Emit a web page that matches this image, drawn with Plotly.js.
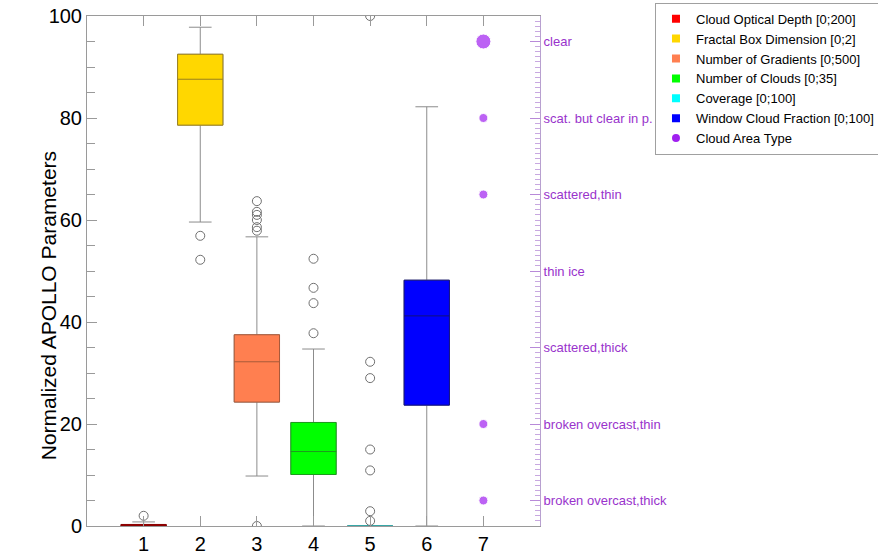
<!DOCTYPE html>
<html>
<head>
<meta charset="utf-8">
<script src="https://cdn.plot.ly/plotly-3.0.1.min.js"></script>
<style>html,body{margin:0;padding:0;background:#fff;}#chart{width:878px;height:554px;}</style>
</head>
<body>
<div id="chart"></div>
<script>
// ---- Data ----
const categories = [1, 2, 3, 4, 5, 6];
const seriesNames = [
  'Cloud Optical Depth [0;200]',
  'Fractal Box Dimension [0;2]',
  'Number of Gradients [0;500]',
  'Number of Clouds [0;35]',
  'Coverage [0;100]',
  'Window Cloud Fraction [0;100]'
];
const lowerWhisker = [0.0, 59.6, 9.8, 0.0, 0.0, 0.0];
const q1Values     = [0.0, 78.6, 24.3, 10.1, 0.0, 23.7];
const medianValues = [0.1, 87.6, 32.2, 14.6, 0.0, 41.2];
const q3Values     = [0.3, 92.5, 37.5, 20.3, 0.0, 48.2];
const upperWhisker = [0.8, 97.8, 56.7, 34.7, 0.0, 82.2];
const outliers1 = [2.0];
const outliers2 = [56.9, 52.2];
const outliers3 = [63.7, 61.6, 61.0, 60.0, 58.6, 57.9, 0.0];
const outliers4 = [52.4, 46.7, 43.7, 37.8];
const outliers5 = [100.0, 32.2, 29.0, 15.0, 10.9, 2.9, 1.0];
const outliers6 = [];
const areaTypeName = 'Cloud Area Type';
const areaTypeX = [7, 7, 7, 7, 7];
const areaTypeY = [95, 80, 65, 20, 5];
const areaTypeLabelValues = [5, 20, 35, 50, 65, 80, 95];
const areaTypeLabels = ['broken overcast,thick', 'broken overcast,thin', 'scattered,thick',
  'thin ice', 'scattered,thin', 'scat. but clear in p.', 'clear'];
const xTickValues = [1, 2, 3, 4, 5, 6, 7];
const yTitle = 'Normalized APOLLO Parameters';

// ---- Styles ----
const fillColors = ['#FF0000', '#FFD700', '#FF7F50', '#00FF00', '#00FFFF', '#0000FF'];
const edgeColors = ['#8B0000', '#9A8020', '#A85A3A', '#1E9A1E', '#2AA8A8', '#10107A'];
const purple = '#A020F0';
const FONT = 'Liberation Sans, Arial, Helvetica, sans-serif';

const outlierLists = [outliers1, outliers2, outliers3, outliers4, outliers5, outliers6];
const traces = [];

categories.forEach((c, i) => {
  // whiskers (gray)
  traces.push({
    type: 'box', x: [c], q1: [q1Values[i]], median: [medianValues[i]], q3: [q3Values[i]],
    lowerfence: [lowerWhisker[i]], upperfence: [upperWhisker[i]],
    width: 0.8, whiskerwidth: 0.5, fillcolor: 'rgba(0,0,0,0)',
    line: {color: '#8C8C8C', width: 1}, showlegend: false, hoverinfo: 'skip'
  });
  // colored box with darker outline/median
  traces.push({
    type: 'box', x: [c], q1: [q1Values[i]], median: [medianValues[i]], q3: [q3Values[i]],
    lowerfence: [q1Values[i]], upperfence: [q3Values[i]],
    width: 0.8, whiskerwidth: 0, fillcolor: fillColors[i],
    line: {color: edgeColors[i], width: 1}, showlegend: false, hoverinfo: 'skip'
  });
});

// outliers
const ox = [], oy = [];
outlierLists.forEach((lst, i) => lst.forEach(v => { ox.push(categories[i]); oy.push(v); }));
traces.push({
  type: 'scatter', mode: 'markers', x: ox, y: oy, showlegend: false, hoverinfo: 'y',
  cliponaxis: true,
  marker: {symbol: 'circle-open', size: 9, color: '#707070', line: {width: 1, color: '#707070'}}
});

// cloud area type points
traces.push({
  type: 'scatter', mode: 'markers', x: areaTypeX, y: areaTypeY, showlegend: false,
  marker: {symbol: 'circle', size: [15, 9, 9, 9, 9], color: purple}
});

// legend entries
seriesNames.forEach((n, i) => {
  traces.push({type: 'scatter', mode: 'markers', x: [null], y: [null], name: n,
    marker: {symbol: 'square', size: 8, color: fillColors[i]}});
});
traces.push({type: 'scatter', mode: 'markers', x: [null], y: [null], name: areaTypeName,
  marker: {symbol: 'circle', size: 8, color: purple}});

// y2 dummy to activate the right axis
traces.push({type: 'scatter', mode: 'markers', x: [null], y: [null], yaxis: 'y2',
  showlegend: false, hoverinfo: 'skip'});

const layout = {
  width: 878, height: 554,
  margin: {l: 87, r: 338, t: 16, b: 28, pad: 0},
  paper_bgcolor: '#FFFFFF', plot_bgcolor: '#FFFFFF',
  font: {family: FONT, color: '#000'},
  boxmode: 'overlay',
  showlegend: true,
  legend: {
    xref: 'container', yref: 'container',
    x: 0.746, xanchor: 'left', y: 0.995, yanchor: 'top',
    bordercolor: '#A0A0A0', borderwidth: 1, bgcolor: '#FFFFFF',
    font: {family: FONT, size: 13, color: '#000'},
    traceorder: 'normal', itemwidth: 30, tracegroupgap: 0
  },
  xaxis: {
    range: [0, 8], tickmode: 'array', tickvals: xTickValues,
    ticks: 'inside', ticklen: 10, tickcolor: '#9A9A9A', tickwidth: 1,
    showline: true, linecolor: '#9A9A9A', linewidth: 1, mirror: 'ticks',
    showgrid: false, zeroline: false, automargin: false,
    tickfont: {family: FONT, size: 20, color: '#000'}
  },
  yaxis: {
    range: [0, 100], dtick: 20, tick0: 0,
    ticks: 'inside', ticklen: 10, tickcolor: '#9A9A9A', tickwidth: 1,
    minor: {dtick: 5, ticks: 'inside', ticklen: 8, tickcolor: '#9A9A9A', showgrid: false},
    showline: true, linecolor: '#9A9A9A', linewidth: 1, mirror: false,
    showgrid: false, zeroline: false, automargin: false,
    tickfont: {family: FONT, size: 20, color: '#000'}
  },
  yaxis2: {
    overlaying: 'y', side: 'right', range: [0, 100],
    tickmode: 'array', tickvals: areaTypeLabelValues, ticktext: areaTypeLabels,
    ticks: 'inside', ticklen: 10, tickcolor: '#B88AD8', tickwidth: 1,
    minor: {tickmode: 'linear', tick0: 0, dtick: 1, ticks: 'inside', ticklen: 5, tickcolor: '#C8A8E0', showgrid: false},
    showline: true, linecolor: '#B8A0D0', linewidth: 1,
    showgrid: false, zeroline: false, automargin: false,
    tickfont: {family: FONT, size: 13, color: '#9933CC'}
  },
  annotations: [{
    text: yTitle, xref: 'paper', yref: 'paper', x: -0.086, y: 0.431,
    xanchor: 'center', yanchor: 'middle', textangle: -90, showarrow: false,
    font: {family: FONT, size: 21, color: '#000'}
  }]
};

Plotly.newPlot('chart', traces, layout, {displayModeBar: false, staticPlot: true});
</script>
</body>
</html>
